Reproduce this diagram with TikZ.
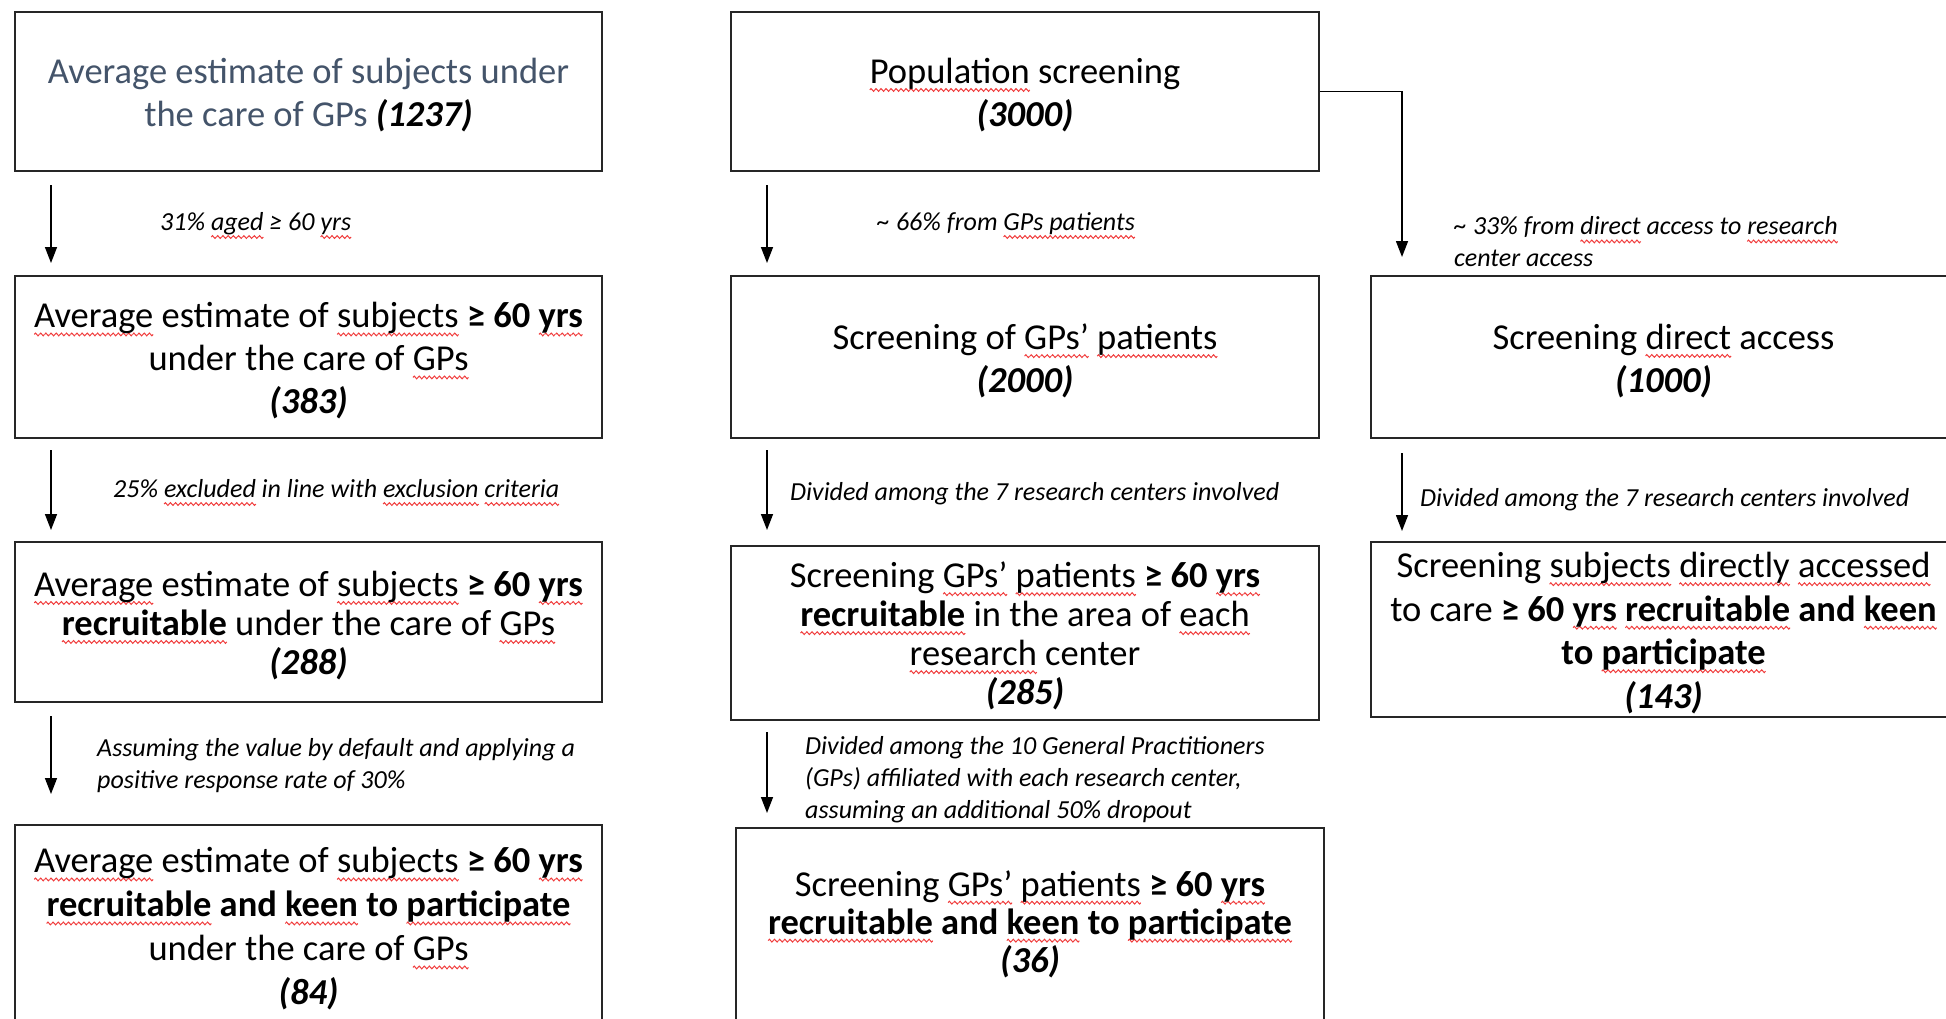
\documentclass[tikz,border=0pt]{standalone}
\usepackage{fontspec}
\setmainfont{Carlito}
\usetikzlibrary{arrows.meta}
\definecolor{slate}{HTML}{44546A}
\definecolor{boxline}{HTML}{262626}
\definecolor{spellred}{HTML}{F03C3C}
% red wavy underline for flagged words
\newsavebox\wavebox
\newsavebox\sqwword
\newcommand\sqw[1]{\leavevmode\sbox\sqwword{#1}%
  \rlap{\lower6.5pt\hbox to \wd\sqwword{\xleaders\copy\wavebox\hfill}}\usebox\sqwword}
\newcommand\nb[1]{\textbf{\textit{#1}}}
\tikzset{
  box/.style={draw=boxline, line width=1.8pt, inner sep=0pt},
  boxtext/.style={inner sep=0pt, align=center, font=\fontsize{36.5}{43}\selectfont},
  note/.style={inner sep=0pt, align=left, anchor=west,
    font=\fontsize{26}{32}\selectfont\itshape},
  flow/.style={line width=1.5pt, -{Triangle[length=16pt,width=12pt]}},
}
\begin{document}
\sbox\wavebox{\begin{pgfpicture}%
  \pgfsetbaseline{0pt}%
  \pgfpathrectangle{\pgfpoint{0pt}{-1.5pt}}{\pgfpoint{5pt}{3pt}}%
  \pgfusepath{use as bounding box}%
  \pgfsetcolor{spellred}\pgfsetlinewidth{1pt}%
  \pgfpathmoveto{\pgfpoint{0pt}{0pt}}%
  \pgfpathsine{\pgfpoint{1.25pt}{1.4pt}}%
  \pgfpathcosine{\pgfpoint{1.25pt}{-1.4pt}}%
  \pgfpathsine{\pgfpoint{1.25pt}{-1.4pt}}%
  \pgfpathcosine{\pgfpoint{1.25pt}{1.4pt}}%
  \pgfusepath{stroke}%
\end{pgfpicture}}%
\begin{tikzpicture}[x=1pt,y=-1pt]
\useasboundingbox (0,0) rectangle (1946,1018);
\clip (0,0) rectangle (1946,1018);

% left column boxes
\node[box, minimum width=587pt, minimum height=159pt] (l1) at (308.5,91.5) {};
\node[box, minimum width=587pt, minimum height=162pt] (l2) at (308.5,357) {};
\node[box, minimum width=587pt, minimum height=160pt] (l3) at (308.5,622) {};
\node[box, minimum width=587pt, minimum height=205pt] (l4) at (308.5,927.5) {};
% middle column boxes
\node[box, minimum width=588pt, minimum height=159pt] (m1) at (1025,91.5) {};
\node[box, minimum width=588pt, minimum height=162pt] (m2) at (1025,357) {};
\node[box, minimum width=588pt, minimum height=174pt] (m3) at (1025,633) {};
\node[box, minimum width=588pt, minimum height=202pt] (m4) at (1030,929) {};
% right column boxes
\node[box, minimum width=585pt, minimum height=162pt] (r1) at (1663.5,357) {};
\node[box, minimum width=585pt, minimum height=175pt] (r2) at (1663.5,629.5) {};

% box texts
\node[boxtext, text=slate] (l1t) at (308.5,95)
  {Average estimate of subjects under\\the care of GPs \textcolor{black}{\nb{(1237)}}};
\node[boxtext] (l2t) at (308.5,361)
  {\sqw{Average} estimate of \sqw{subjects} \textbf{≥ 60 \sqw{yrs}}\\under the care of \sqw{GPs}\\\nb{(383)}};
\node[boxtext, font=\fontsize{36.5}{39}\selectfont] (l3t) at (308.5,625.5)
  {\sqw{Average} estimate of \sqw{subjects} \textbf{≥ 60 \sqw{yrs}}\\\textbf{\sqw{recruitable}} under the care of \sqw{GPs}\\\nb{(288)}};
\node[boxtext, font=\fontsize{36.5}{44}\selectfont] (l4t) at (308.5,929)
  {\sqw{Average} estimate of \sqw{subjects} \textbf{≥ 60 \sqw{yrs}}\\\textbf{\sqw{recruitable} and \sqw{keen} to \sqw{participate}}\\under the care of \sqw{GPs}\\\nb{(84)}};
\node[boxtext] (m1t) at (1025,95)
  {\sqw{Population} screening\\\nb{(3000)}};
\node[boxtext] (m2t) at (1025,361)
  {Screening of \sqw{GPs’} \sqw{patients}\\\nb{(2000)}};
\node[boxtext, font=\fontsize{36.5}{39}\selectfont] (m3t) at (1025,636)
  {Screening \sqw{GPs’} \sqw{patients} \textbf{≥ 60 \sqw{yrs}}\\\textbf{\sqw{recruitable}} in the area of \sqw{each}\\\sqw{research} center\\\nb{(285)}};
\node[boxtext, font=\fontsize{36.5}{38}\selectfont] (m4t) at (1030,924)
  {Screening \sqw{GPs’} \sqw{patients} \textbf{≥ 60 \sqw{yrs}}\\\textbf{\sqw{recruitable} and \sqw{keen} to \sqw{participate}}\\\nb{(36)}};
\node[boxtext] (r1t) at (1663.5,361)
  {Screening \sqw{direct} access\\\nb{(1000)}};
\node[boxtext, font=\fontsize{36.5}{43.5}\selectfont] (r2t) at (1663.5,633)
  {Screening \sqw{subjects} \sqw{directly} \sqw{accessed}\\to care \textbf{≥ 60 \sqw{yrs} \sqw{recruitable} and \sqw{keen}}\\\textbf{to \sqw{participate}}\\\nb{(143)}};

% arrow end points
\coordinate (al1s) at (51,185);  \coordinate (al1e) at (51,263);
\coordinate (al2s) at (51,450);  \coordinate (al2e) at (51,530);
\coordinate (al3s) at (51,716);  \coordinate (al3e) at (51,794);
\coordinate (am1s) at (767,185); \coordinate (am1e) at (767,263);
\coordinate (am2s) at (767,450); \coordinate (am2e) at (767,530);
\coordinate (am3s) at (767,732); \coordinate (am3e) at (767,813);
\coordinate (ar1e) at (1402,257);
\coordinate (ar2s) at (1402,453); \coordinate (ar2e) at (1402,531);

\draw[flow] (al1s) -- (al1e);
\draw[flow] (al2s) -- (al2e);
\draw[flow] (al3s) -- (al3e);
\draw[flow] (am1s) -- (am1e);
\draw[flow] (am2s) -- (am2e);
\draw[flow] (am3s) -- (am3e);
\draw[flow] (m1.east) -| (ar1e);
\draw[flow] (ar2s) -- (ar2e);

% step annotations
\node[note] (n1) at (160,225.5) {31\% \sqw{aged} ≥ 60 \sqw{yrs}};
\node[note] (n2) at (113,492.5) {25\% \sqw{excluded} in line with \sqw{exclusion} \sqw{criteria}};
\node[note] (n3) at (97,766) {Assuming the value by default and applying a\\positive response rate of 30\%};
\node[note] (n4) at (877,225.5) {\textasciitilde{} 66\% from \sqw{GPs patients}};
\node[note] (n5) at (790,493.5) {Divided among the 7 research centers involved};
\node[note] (n6) at (805,780) {Divided among the 10 General Practitioners\\(GPs) affiliated with each research center,\\assuming an additional 50\% dropout};
\node[note] (n7) at (1454,242) {\textasciitilde{} 33\% from \sqw{direct} access to \sqw{research}\\center access};
\node[note] (n8) at (1420,499.5) {Divided among the 7 research centers involved};
\end{tikzpicture}
\end{document}
